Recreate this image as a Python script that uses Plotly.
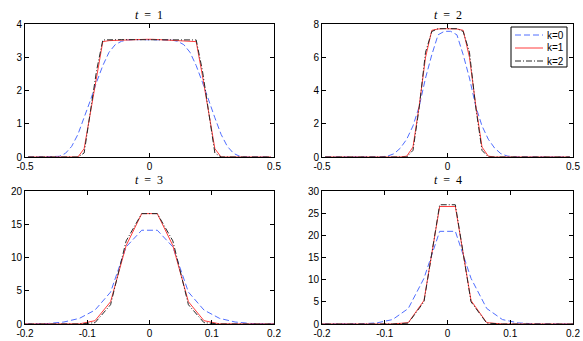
import plotly.graph_objects as go
from plotly.subplots import make_subplots

# ---------------- data ----------------
x_wide = [-0.4875, -0.4625, -0.4375, -0.4125, -0.3875, -0.3625, -0.3375, -0.3125, -0.2875, -0.2625,
          -0.2375, -0.2125, -0.1875, -0.1625, -0.1375, -0.1125, -0.0875, -0.0625, -0.0375, -0.0125,
          0.0125, 0.0375, 0.0625, 0.0875, 0.1125, 0.1375, 0.1625, 0.1875, 0.2125, 0.2375,
          0.2625, 0.2875, 0.3125, 0.3375, 0.3625, 0.3875, 0.4125, 0.4375, 0.4625, 0.4875]

x_narrow = [-0.2125, -0.1875, -0.1625, -0.1375, -0.1125, -0.0875, -0.0625, -0.0375, -0.0125,
            0.0125, 0.0375, 0.0625, 0.0875, 0.1125, 0.1375, 0.1625, 0.1875, 0.2125]

t1_k0 = [0, 0, 0, 0, 0, 0.02, 0.11, 0.32, 0.68, 1.18, 1.70, 2.25, 2.75, 3.15, 3.38, 3.48, 3.52, 3.53, 3.53, 3.53,
         3.53, 3.53, 3.53, 3.52, 3.48, 3.38, 3.15, 2.75, 2.25, 1.70, 1.18, 0.68, 0.32, 0.11, 0.02, 0, 0, 0, 0, 0]
t1_k1 = [0, 0, 0, 0, 0, 0, 0, 0, 0, 0.25, 1.35, 2.45, 3.47, 3.50, 3.51, 3.52, 3.52, 3.53, 3.53, 3.54,
         3.54, 3.53, 3.53, 3.52, 3.52, 3.51, 3.50, 3.47, 2.45, 1.35, 0.25, 0, 0, 0, 0, 0, 0, 0, 0, 0]
t1_k2 = [0, 0, 0, 0, 0, 0, 0, 0, 0, 0.12, 1.30, 2.60, 3.52, 3.53, 3.53, 3.53, 3.53, 3.53, 3.53, 3.53,
         3.53, 3.53, 3.53, 3.53, 3.53, 3.53, 3.53, 3.52, 2.60, 1.30, 0.12, 0, 0, 0, 0, 0, 0, 0, 0, 0]

t2_k0 = [0, 0, 0, 0, 0, 0, 0, 0, 0, 0.01, 0.06, 0.20, 0.54, 1.07, 1.87, 3.05, 4.75, 6.15, 7.35, 7.56,
         7.56, 7.35, 6.15, 4.75, 3.05, 1.87, 1.07, 0.54, 0.20, 0.06, 0.01, 0, 0, 0, 0, 0, 0, 0, 0, 0]
t2_k1 = [0, 0, 0, 0, 0, 0, 0, 0, 0, 0, 0, 0, 0, 0.05, 0.60, 3.10, 6.00, 7.62, 7.70, 7.72,
         7.72, 7.70, 7.62, 6.00, 3.10, 0.60, 0.05, 0, 0, 0, 0, 0, 0, 0, 0, 0, 0, 0, 0, 0]
t2_k2 = [0, 0, 0, 0, 0, 0, 0, 0, 0, 0, 0, 0, 0, 0, 0.40, 3.00, 6.30, 7.55, 7.72, 7.72,
         7.72, 7.72, 7.55, 6.30, 3.00, 0.40, 0, 0, 0, 0, 0, 0, 0, 0, 0, 0, 0, 0, 0, 0]

t3_k0 = [0, 0.01, 0.08, 0.30, 0.85, 2.10, 4.80, 11.60, 14.10, 14.10, 11.60, 4.80, 2.10, 0.85, 0.30, 0.08, 0.01, 0]
t3_k1 = [0, 0, 0, 0, 0.02, 0.50, 3.35, 11.80, 16.60, 16.60, 11.80, 3.35, 0.50, 0.02, 0, 0, 0, 0]
t3_k2 = [0, 0, 0, 0, 0, 0.20, 2.90, 12.50, 16.60, 16.60, 12.50, 2.90, 0.20, 0, 0, 0, 0, 0]

t4_k0 = [0, 0, 0, 0.04, 0.25, 1.00, 3.50, 10.30, 20.90, 20.90, 10.30, 3.50, 1.00, 0.25, 0.04, 0, 0, 0]
t4_k1 = [0, 0, 0, 0, 0, 0, 0.30, 5.30, 26.50, 26.50, 5.30, 0.30, 0, 0, 0, 0, 0, 0]
t4_k2 = [0, 0, 0, 0, 0, 0, 0.20, 5.00, 26.90, 26.90, 5.00, 0.20, 0, 0, 0, 0, 0, 0]

series_names = ["k=0", "k=1", "k=2"]
panel_titles = ["1", "2", "3", "4"]

xt_wide = [-0.5, 0, 0.5]
xt_wide_text = ["-0.5", "0", "0.5"]
xt_narrow = [-0.2, -0.1, 0, 0.1, 0.2]
xt_narrow_text = ["-0.2", "-0.1", "0", "0.1", "0.2"]
yt1 = [0, 1, 2, 3, 4]
yt2 = [0, 2, 4, 6, 8]
yt3 = [0, 5, 10, 15, 20]
yt4 = [0, 5, 10, 15, 20, 25, 30]

# ---------------- figure ----------------
W, H = 583, 341
fig = make_subplots(rows=2, cols=2)

styles = [
    dict(color="rgb(80,110,255)", width=1, dash="6px,3px"),
    dict(color="rgb(255,60,60)", width=1, dash="solid"),
    dict(color="rgb(40,40,40)", width=1, dash="6px,2px,1px,2px"),
]

panels = [
    (1, 1, x_wide, [t1_k0, t1_k1, t1_k2]),
    (1, 2, x_wide, [t2_k0, t2_k1, t2_k2]),
    (2, 1, x_narrow, [t3_k0, t3_k1, t3_k2]),
    (2, 2, x_narrow, [t4_k0, t4_k1, t4_k2]),
]
for pi, (r, c, xs, ys_list) in enumerate(panels):
    for si, ys in enumerate(ys_list):
        fig.add_trace(go.Scatter(x=xs, y=ys, mode="lines", name=series_names[si],
                                 line=styles[si], showlegend=False),
                      row=r, col=c)


def px_dom_x(a, b):
    return [a / W, b / W]


def px_dom_y(top, bottom):
    return [1 - bottom / H, 1 - top / H]


tick_font = dict(family="Liberation Sans, Arial", size=10, color="black")
axis_common = dict(showline=True, linecolor="black", linewidth=1, mirror="ticks",
                   ticks="inside", ticklen=4, tickcolor="black", showgrid=False,
                   zeroline=False, automargin=False, tickfont=tick_font)

dom = [
    (px_dom_x(25, 274), px_dom_y(24, 157), [-0.5, 0.5], xt_wide, xt_wide_text, [0, 4], yt1),
    (px_dom_x(322, 573), px_dom_y(24, 157), [-0.5, 0.5], xt_wide, xt_wide_text, [0, 8], yt2),
    (px_dom_x(25, 274), px_dom_y(191, 324), [-0.2, 0.2], xt_narrow, xt_narrow_text, [0, 20], yt3),
    (px_dom_x(322, 573), px_dom_y(191, 324), [-0.2, 0.2], xt_narrow, xt_narrow_text, [0, 30], yt4),
]
for i, (dx, dy, xr, xtv, xtt, yr, ytv) in enumerate(dom):
    sfx = "" if i == 0 else str(i + 1)
    fig.layout["xaxis" + sfx].update(domain=dx, range=xr, tickvals=xtv, ticktext=xtt, **axis_common)
    fig.layout["yaxis" + sfx].update(domain=dy, range=yr, tickvals=ytv,
                                     ticktext=[str(v) for v in ytv], **axis_common)
    fig.add_annotation(x=(dx[0] + dx[1]) / 2, y=1 - (15 if i < 2 else 180) / H,
                       xref="paper", yref="paper", xanchor="center", yanchor="middle",
                       text="<i>t</i>\u00a0\u00a0=\u00a0\u00a0" + panel_titles[i], showarrow=False,
                       font=dict(family="Liberation Serif, Times New Roman", size=12, color="black"))

# ---- compact MATLAB-style legend box in the t = 2 panel ----
leg_left, leg_right, leg_top, leg_bottom = 511, 567, 27, 67
fig.add_shape(type="rect", xref="paper", yref="paper",
              x0=leg_left / W, x1=leg_right / W, y0=1 - leg_bottom / H, y1=1 - leg_top / H,
              line=dict(color="black", width=1), fillcolor="white", layer="above")
row_y = [35, 48, 61]
for si in range(3):
    yy = 1 - row_y[si] / H
    fig.add_shape(type="line", xref="paper", yref="paper",
                  x0=515 / W, x1=543 / W, y0=yy, y1=yy, line=styles[si], layer="above")
    fig.add_annotation(x=545 / W, y=yy, xref="paper", yref="paper", xanchor="left",
                       yanchor="middle", text=series_names[si], showarrow=False,
                       font=tick_font)

fig.update_layout(
    width=W, height=H, margin=dict(l=0, r=0, t=0, b=0),
    paper_bgcolor="white", plot_bgcolor="white", showlegend=False,
)

fig.write_html("out.html", config={"displayModeBar": False},
               post_script="document.body.style.margin='0';document.body.style.padding='0';")
